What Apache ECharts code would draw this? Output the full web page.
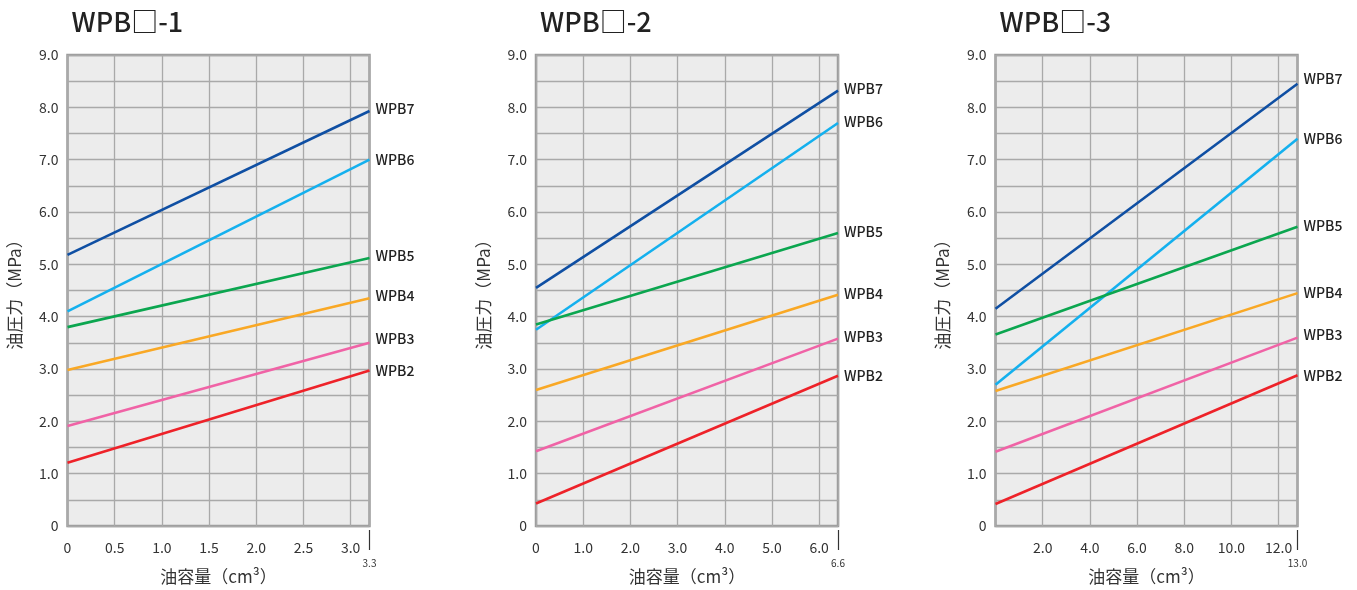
<!DOCTYPE html>
<html>
<head>
<meta charset="utf-8">
<script src="https://cdn.jsdelivr.net/npm/echarts@6/dist/echarts.min.js"></script>
<style>
  html, body { margin: 0; padding: 0; background: #fff; }
  #main { width: 1357px; height: 590px; }
</style>
</head>
<body>
<div id="main"></div>
<script>
// series names, top to bottom in the label column
const seriesNames = ['WPB7', 'WPB6', 'WPB5', 'WPB4', 'WPB3', 'WPB2']
const seriesColors = ['#0f4fa3', '#14b0ee', '#0ba64f', '#f9a825', '#f063a6', '#ee2229']

const titles = ['WPB□-1', 'WPB□-2', 'WPB□-3']

// x extents (axis end drawn at xMax, labelled with xEndText)
const xMax = [3.2, 6.4, 12.8]
const xEndText = ['3.3', '6.6', '13.0']
const xStep = [0.5, 1, 2]
const xLabels1 = [0, 0.5, 1, 1.5, 2, 2.5, 3]
const xLabels2 = [0, 1, 2, 3, 4, 5, 6]
const xLabels3 = [2, 4, 6, 8, 10, 12]

// oil pressure at x = 0 and at x = xMax, one pair per series
const panel1 = [[5.18, 7.93], [4.1, 7.0], [3.8, 5.12], [2.98, 4.35], [1.91, 3.5], [1.21, 2.97]]
const panel2 = [[4.55, 8.32], [3.75, 7.7], [3.85, 5.6], [2.6, 4.42], [1.43, 3.58], [0.43, 2.87]]
const panel3 = [[4.15, 8.45], [2.7, 7.4], [3.66, 5.72], [2.58, 4.45], [1.42, 3.6], [0.42, 2.88]]

const yTicks = [0, 1, 2, 3, 4, 5, 6, 7, 8, 9]

// label nudges (px) so the end labels sit like the reference
const labelDy = [
    [-2, 0, -2, -3, -4, 0],
    [-2, -1, -1, -1, -2, 0],
    [-5, 0, -1, 0, -3, 0],
]

const FONT = '"Noto Sans CJK JP", "Noto Sans", sans-serif'
const gridLefts = [67.5, 536, 995.5]

const panels = [panel1, panel2, panel3]
const xLabelSets = [xLabels1, xLabels2, xLabels3]

const option = {
    backgroundColor: '#fff',
    animation: false,
    textStyle: { fontFamily: FONT },
    title: [],
    grid: [],
    xAxis: [],
    yAxis: [],
    series: []
}

panels.forEach((panel, p) => {
    option.title.push({
        text: titles[p],
        left: gridLefts[p] - 1,
        top: 3,
        textStyle: { fontFamily: FONT, fontSize: 27, fontWeight: 500, color: '#222' }
    })
    option.grid.push({
        left: gridLefts[p],
        top: 55,
        width: 302,
        height: 476,
        show: true,
        backgroundColor: '#ececec',
        borderColor: '#9c9c9c',
        borderWidth: 2.5
    })
    // main x axis
    option.xAxis.push({
        type: 'value',
        gridIndex: p,
        min: 0,
        max: xMax[p],
        interval: xStep[p],
        name: '油容量（cm³）',
        nameLocation: 'middle',
        nameGap: 42,
        nameTextStyle: { fontFamily: FONT, fontSize: 17, color: '#333' },
        axisLine: { show: false },
        axisTick: { show: false },
        splitLine: { show: true, lineStyle: { color: '#a9a9a9', width: 1.3 } },
        axisLabel: {
            customValues: xLabelSets[p],
            margin: 15,
            fontFamily: FONT,
            fontSize: 14,
            color: '#333',
            formatter: (v) => (v === 0 ? '0' : v.toFixed(1))
        }
    })
    // end marker axis: the long tick and small label at xMax
    option.xAxis.push({
        type: 'value',
        gridIndex: p,
        position: 'bottom',
        offset: 4,
        min: 0,
        max: xMax[p],
        interval: xStep[p],
        axisLine: { show: false },
        splitLine: { show: false },
        axisTick: {
            show: true,
            customValues: [xMax[p]],
            length: 20,
            lineStyle: { color: '#333', width: 1.2 }
        },
        axisLabel: {
            customValues: [xMax[p]],
            margin: 28,
            fontFamily: FONT,
            fontSize: 10,
            color: '#333',
            formatter: () => xEndText[p]
        }
    })
    option.yAxis.push({
        type: 'value',
        gridIndex: p,
        min: 0,
        max: 9,
        interval: 0.5,
        name: '油圧力（MPa）',
        nameLocation: 'middle',
        nameGap: 44,
        nameTextStyle: { fontFamily: FONT, fontSize: 17, color: '#333' },
        axisLine: { show: false },
        axisTick: { show: false },
        splitLine: { show: true, lineStyle: { color: '#a9a9a9', width: 1.3 } },
        axisLabel: {
            customValues: yTicks,
            margin: 9,
            fontFamily: FONT,
            fontSize: 14,
            color: '#333',
            formatter: (v) => (v === 0 ? '0' : v.toFixed(1))
        }
    })
    panel.forEach((pair, i) => {
        option.series.push({
            type: 'line',
            name: seriesNames[i],
            xAxisIndex: p * 2,
            yAxisIndex: p,
            data: [[0, pair[0]], [xMax[p], pair[1]]],
            symbol: 'none',
            silent: true,
            lineStyle: { color: seriesColors[i], width: 2.6 },
            endLabel: {
                show: true,
                formatter: seriesNames[i],
                distance: 6,
                offset: [0, labelDy[p][i]],
                fontFamily: FONT,
                fontSize: 14,
                fontWeight: 500,
                color: '#222'
            }
        })
    })
})

const chart = echarts.init(document.getElementById('main'))
chart.setOption(option)
</script>
</body>
</html>
